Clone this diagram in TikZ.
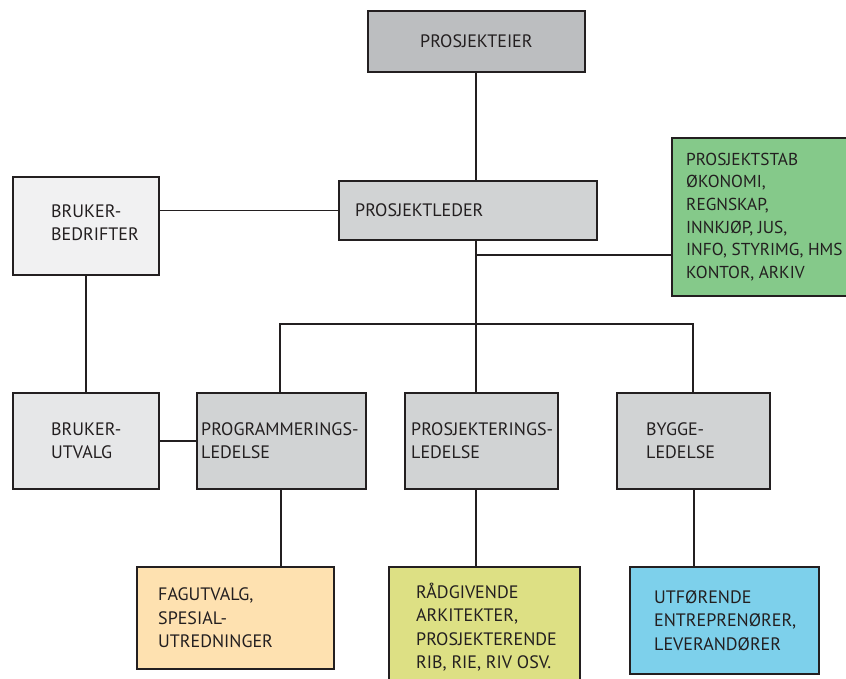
\documentclass[tikz,border=0pt]{standalone}
\usepackage{fontspec}
\setmainfont{PT Sans}
\definecolor{ink}{HTML}{231F20}
\definecolor{gdark}{HTML}{BCBEC0}
\definecolor{gmid}{HTML}{D1D3D4}
\definecolor{glight}{HTML}{F1F1F2}
\definecolor{gpale}{HTML}{E6E7E8}
\definecolor{stab}{HTML}{85C98A}
\definecolor{fag}{HTML}{FEE1B0}
\definecolor{rad}{HTML}{DDE084}
\definecolor{utf}{HTML}{7DD0EB}
\begin{document}
\begin{tikzpicture}[x=1pt,y=-1pt,
  box/.style={draw=ink, line width=1.8pt, rectangle, inner sep=0pt, anchor=north west},
  conn/.style={draw=ink, line width=1.4pt},
  txt/.style={text=ink, font=\fontsize{18}{23.5}\selectfont, align=left, inner sep=0pt, anchor=west}]
\useasboundingbox (0,0) rectangle (846,679);

% boxes
\node[box, fill=gdark, minimum width=217pt, minimum height=61pt] (eier) at (367,10) {};
\node[box, fill=gmid, minimum width=258pt, minimum height=59pt] (leder) at (338,180) {};
\node[box, fill=glight, minimum width=146pt, minimum height=98pt] (bedrifter) at (12,176) {};
\node[box, fill=stab, minimum width=185pt, minimum height=158pt] (stab) at (671,137) {};
\node[box, fill=gpale, minimum width=146pt, minimum height=96pt] (utvalg) at (12,392) {};
\node[box, fill=gmid, minimum width=169pt, minimum height=96pt] (prog) at (196,392) {};
\node[box, fill=gmid, minimum width=153pt, minimum height=96pt] (prosj) at (404,392) {};
\node[box, fill=gmid, minimum width=153pt, minimum height=96pt] (bygge) at (616,392) {};
\node[box, fill=fag, minimum width=197pt, minimum height=102pt] (fag) at (136,566) {};
\node[box, fill=rad, minimum width=191pt, minimum height=121pt] (rad) at (388,566) {};
\node[box, fill=utf, minimum width=189pt, minimum height=107pt] (utf) at (629,566) {};

% texts
\node[txt, anchor=center] (t-eier) at (eier.center) {PROSJEKTEIER};
\node[txt] (t-leder) at ([xshift=17pt]leder.west) {PROSJEKTLEDER};
\node[txt] (t-bedrifter) at ([xshift=39pt,yshift=3pt]bedrifter.west) {BRUKER-\\BEDRIFTER};
\node[txt, font=\fontsize{17.3}{22.7}\selectfont] (t-stab) at ([xshift=15pt]stab.west) {PROSJEKTSTAB\\ØKONOMI,\\REGNSKAP,\\INNKJØP, JUS,\\INFO, STYRIMG, HMS\\KONTOR, ARKIV};
\node[txt] (t-utvalg) at ([xshift=39pt]utvalg.west) {BRUKER-\\UTVALG};
\node[txt] (t-prog) at ([xshift=5pt]prog.west) {PROGRAMMERINGS-\\LEDELSE};
\node[txt] (t-prosj) at ([xshift=7pt]prosj.west) {PROSJEKTERINGS-\\LEDELSE};
\node[txt] (t-bygge) at ([xshift=30pt]bygge.west) {BYGGE-\\LEDELSE};
\node[txt] (t-fag) at ([xshift=22pt]fag.west) {FAGUTVALG,\\SPESIAL-\\UTREDNINGER};
\node[txt] (t-rad) at ([xshift=28pt]rad.west) {RÅDGIVENDE\\ARKITEKTER,\\PROSJEKTERENDE\\RIB, RIE, RIV OSV.};
\node[txt] (t-utf) at ([xshift=25pt]utf.west) {UTFØRENDE\\ENTREPRENØRER,\\LEVERANDØRER};

% connector routing points
\coordinate (spine) at (476,0);
\coordinate (busL) at (280,324);
\coordinate (busR) at (693,324);
\coordinate (tap) at (476,255);

% connectors
\draw[conn] (eier.south -| spine) -- (leder.north -| spine);
\draw[conn] (leder.south -| spine) -- (busL -| spine);
\draw[conn] (tap) -- (tap -| stab.west);
\draw[conn] (bedrifter.east |- leder.west) -- (leder.west);
\draw[conn] (bedrifter.south -| 86,0) -- (utvalg.north -| 86,0);
\draw[conn] (utvalg.east |- 0,441) -- (prog.west |- 0,441);
\draw[conn] (prog.north -| busL) -- (busL) -- (busR) -- (bygge.north -| busR);
\draw[conn] (busL -| spine) -- (prosj.north -| spine);
\draw[conn] (prog.south -| 281,0) -- (fag.north -| 281,0);
\draw[conn] (prosj.south -| spine) -- (rad.north -| spine);
\draw[conn] (bygge.south -| 694,0) -- (utf.north -| 694,0);
\end{tikzpicture}
\end{document}
